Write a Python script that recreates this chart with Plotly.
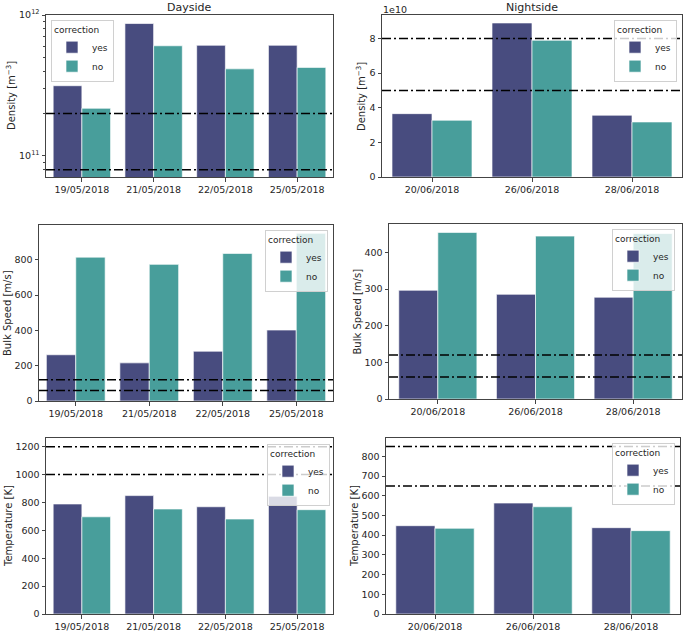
import plotly.graph_objects as go
from plotly.subplots import make_subplots

# ---------------- data ----------------
day_dates = ["19/05/2018", "21/05/2018", "22/05/2018", "25/05/2018"]
night_dates = ["20/06/2018", "26/06/2018", "28/06/2018"]

day_density_yes = [3.15e11, 8.7e11, 6.1e11, 6.1e11]
day_density_no = [2.18e11, 6.05e11, 4.15e11, 4.25e11]
night_density_yes = [3.66e10, 8.9e10, 3.57e10]
night_density_no = [3.28e10, 7.9e10, 3.18e10]

day_speed_yes = [262, 216, 282, 402]
day_speed_no = [815, 774, 836, 950]
night_speed_yes = [297, 286, 278]
night_speed_no = [455, 445, 452]

day_temp_yes = [789, 849, 769, 844]
day_temp_no = [697, 753, 681, 748]
night_temp_yes = [448, 563, 438]
night_temp_no = [435, 544, 423]

day_density_limits = [8e10, 2e11]
night_density_limits = [5e10, 8e10]
day_speed_limits = [60, 120]
night_speed_limits = [60, 120]
day_temp_limits = [1000, 1200]
night_temp_limits = [650, 850]

series_names = ["yes", "no"]
legend_title = "correction"
col_titles = ["Dayside", "Nightside"]

# ---------------- style ----------------
C_YES = "#484c7f"
C_NO = "#489e9b"
EDGE = "rgba(255,255,255,0.65)"
TXT = "#262626"
FONT = "DejaVu Sans"
W, H = 685, 631


def px_x(v):
    return v / W


def px_y(v):
    return 1 - v / H


fig = make_subplots(rows=3, cols=2)

panels = [
    # (row, col, cats, yes, no, limits, ylabel, domx, domy, legend x/top/anchor, ylabel x)
    (1, 1, day_dates, day_density_yes, day_density_no, day_density_limits,
     "Density [m<sup>−3</sup>]", (46, 333), (15, 177), (51, 20, "left"), 11),
    (1, 2, night_dates, night_density_yes, night_density_no, night_density_limits,
     "Density [m<sup>−3</sup>]", (382, 682), (15, 177), (677, 20, "right"), 361),
    (2, 1, day_dates, day_speed_yes, day_speed_no, day_speed_limits,
     "Bulk Speed [m/s]", (39, 333), (225, 401), (328, 230, "right"), 7),
    (2, 2, night_dates, night_speed_yes, night_speed_no, night_speed_limits,
     "Bulk Speed [m/s]", (389, 682), (224, 399), (675, 229, "right"), 357),
    (3, 1, day_dates, day_temp_yes, day_temp_no, day_temp_limits,
     "Temperature [K]", (46, 333), (438, 614), (330, 444, "right"), 8),
    (3, 2, night_dates, night_temp_yes, night_temp_no, night_temp_limits,
     "Temperature [K]", (386, 680), (438, 614), (675, 443, "right"), 354),
]

yranges = [None, [0, 9.36e10], [0, 997], [0, 478], [0, 1262], [0, 893]]
ydticks = [None, None, 200, 100, 200, 100]

axis_common = dict(
    showline=True, mirror=True, linecolor="#444444", linewidth=1,
    ticks="outside", ticklen=3.5, tickwidth=1, tickcolor="#444444",
    showgrid=False, zeroline=False, automargin=False,
    tickfont=dict(family=FONT, size=9.5, color=TXT),
)

legend_layouts = {}
for i, (r, c, cats, yv, nv, lims, ylab, dx, dy, lg, ylx) in enumerate(panels):
    lname = "legend" if i == 0 else f"legend{i + 1}"
    for name, vals, col in ((series_names[0], yv, C_YES), (series_names[1], nv, C_NO)):
        fig.add_trace(
            go.Bar(
                x=cats, y=vals, name=name,
                marker=dict(color=col, line=dict(color=EDGE, width=1)),
                legend=lname, showlegend=True,
            ),
            row=r, col=c,
        )
    idx = "" if i == 0 else str(i + 1)
    for lv in lims:
        fig.add_shape(
            type="line", xref=f"x{idx} domain", x0=0, x1=1, yref=f"y{idx}", y0=lv, y1=lv,
            line=dict(color="black", width=1.5, dash="9px,3px,2px,3px"), layer="above",
        )
    fig.layout[f"xaxis{idx}"].update(
        domain=[px_x(dx[0]), px_x(dx[1])], range=[-0.5, len(cats) - 0.5], **axis_common
    )
    ycfg = dict(axis_common)
    ycfg.update(domain=[px_y(dy[1]), px_y(dy[0])])
    if i == 0:
        ycfg.update(
            type="log", range=[10.851, 12],
            tickvals=[1e11, 1e12], ticktext=["10<sup>11</sup>", "10<sup>12</sup>"],
            minor=dict(ticks="outside", ticklen=2, tickcolor="#444444",
                       tickvals=[8e10, 9e10] + [k * 1e11 for k in range(2, 10)]),
        )
    elif i == 1:
        ycfg.update(range=yranges[i], tickvals=[0, 2e10, 4e10, 6e10, 8e10],
                    ticktext=["0", "2", "4", "6", "8"])
    else:
        ycfg.update(range=yranges[i], dtick=ydticks[i], tick0=0)
    fig.layout[f"yaxis{idx}"].update(**ycfg)

    # y-axis title as rotated text
    fig.add_annotation(
        text=ylab, xref="paper", yref="paper", x=px_x(ylx), y=px_y((dy[0] + dy[1]) / 2),
        xanchor="center", yanchor="middle", textangle=-90, showarrow=False,
        font=dict(family=FONT, size=10, color=TXT),
    )

    lx, ly, side = lg
    legend_layouts[lname] = dict(
        x=px_x(lx), y=px_y(ly), xanchor=side, yanchor="top",
        bgcolor="rgba(255,255,255,0.8)", bordercolor="#d0d0d0", borderwidth=1,
        font=dict(family=FONT, size=9, color=TXT),
        title=dict(text=legend_title, side="top", font=dict(family=FONT, size=9, color=TXT)),
        itemwidth=30, tracegroupgap=0,
    )

fig.update_layout(**legend_layouts)

# column titles
for ci, t in enumerate(col_titles):
    dx = panels[ci][7]
    fig.add_annotation(
        text=t, xref="paper", yref="paper", x=px_x((dx[0] + dx[1]) / 2), y=px_y(7),
        xanchor="center", yanchor="middle", showarrow=False,
        font=dict(family=FONT, size=11, color=TXT),
    )

# offset text for nightside density
fig.add_annotation(
    text="1e10", xref="paper", yref="paper", x=px_x(381), y=px_y(9),
    xanchor="left", yanchor="middle", showarrow=False,
    font=dict(family=FONT, size=9.5, color=TXT),
)

fig.update_layout(
    width=W, height=H, margin=dict(l=0, r=0, t=0, b=0, autoexpand=False),
    paper_bgcolor="white", plot_bgcolor="white",
    barmode="group", bargap=0.2, bargroupgap=0,
    font=dict(family=FONT, color=TXT),
)

# remove the browser's default 8px page margin so the figure fills the window
fig.write_html(
    "out.html",
    config={"displayModeBar": False},
    post_script="document.body.style.margin='0px';document.body.style.overflow='hidden';",
)
